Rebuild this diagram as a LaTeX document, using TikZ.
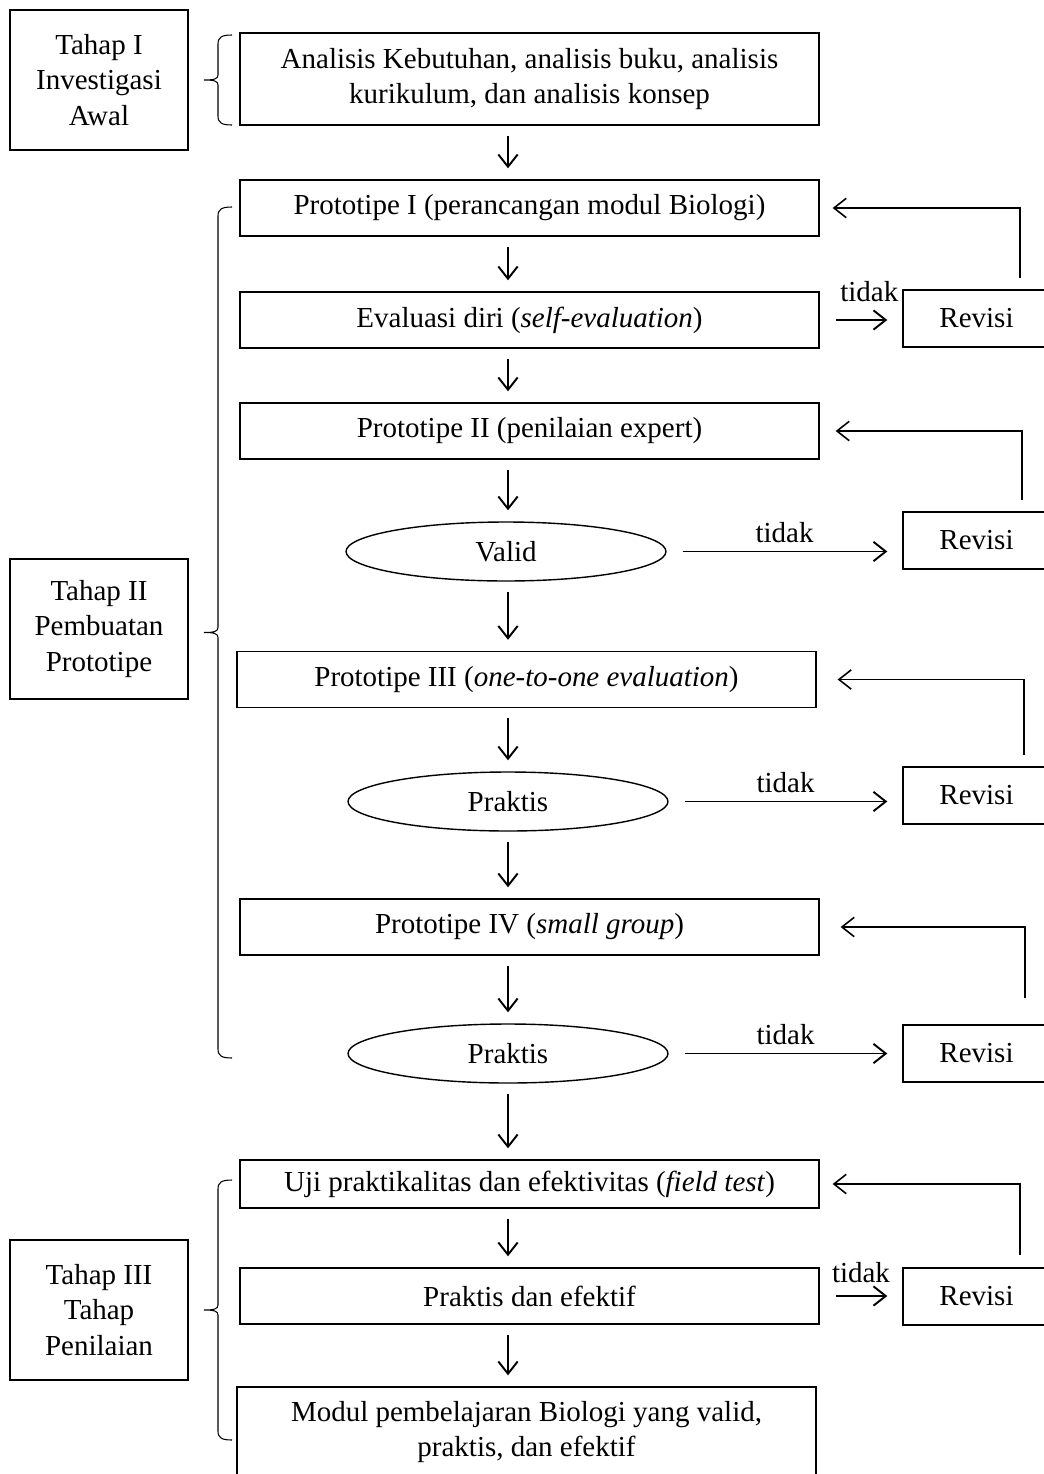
\documentclass[tikz,border=0pt]{standalone}
\usepackage{fontspec}
\setmainfont{Liberation Serif}
\usetikzlibrary{calc, arrows.meta, shapes.geometric}

\begin{document}
\begin{tikzpicture}[x=0.02cm, y=-0.02cm, font=\fontsize{16.5}{20.4}\selectfont,
  box/.style={draw, line width=0.8pt, minimum width=11.58cm, minimum height=1.12cm, align=center, inner sep=2pt},
  tahap/.style={draw, line width=0.8pt, minimum width=3.56cm, minimum height=2.8cm, align=center},
  revisi/.style={draw, line width=0.8pt, minimum width=2.94cm, minimum height=1.14cm},
  oval/.style={draw, ellipse, line width=0.8pt, minimum width=6.4cm, minimum height=1.18cm, inner sep=0pt},
  arr/.style={-{Straight Barb[length=7pt, width=11pt]}, line width=1.1pt},
  down/.style={arr, shorten <=0.2cm, shorten >=0.22cm},
  tidak/.style={arr, shorten <=0.32cm, shorten >=0.3cm},
  back/.style={-{Straight Barb[length=7pt, width=11pt]}, line width=0.9pt},
  brc/.style={line width=0.6pt}]
  \useasboundingbox (0,0) rectangle (1044,1474);

  % tahap di kiri
  \node[tahap] (T1) at (99,80)   {Tahap I\\Investigasi\\Awal};
  \node[tahap] (T2) at (99,629)  {Tahap II\\Pembuatan\\Prototipe};
  \node[tahap] (T3) at (99,1310) {Tahap III\\Tahap\\Penilaian};

  \node[box, minimum height=1.84cm] (A) at (529.5,79)
    {Analisis Kebutuhan, analisis buku, analisis\\kurikulum, dan analisis konsep};
  \node[box] (P1) at (529.5,208)  {Prototipe I (perancangan modul Biologi)};
  \node[box] (E)  at (529.5,320)  {Evaluasi diri (\textit{self-evaluation})};
  \node[box] (P2) at (529.5,431)  {Prototipe II (penilaian expert)};
  \node[oval] (V) at (506,551.5)  {Valid};
  \node[box] (P3) at (526.5,679.5) {Prototipe III (\textit{one-to-one evaluation})};
  \node[oval] (K1) at (508,801.5) {Praktis};
  \node[box] (P4) at (529.5,927)  {Prototipe IV (\textit{small group})};
  \node[oval] (K2) at (508,1053.5) {Praktis};
  \node[box, minimum height=0.96cm] (U) at (529.5,1184)
    {Uji praktikalitas dan efektivitas (\textit{field test})};
  \node[box] (PE) at (529.5,1296) {Praktis dan efektif};
  \node[box, minimum height=1.8cm] (M) at (526.5,1432)
    {Modul pembelajaran Biologi yang valid,\\praktis, dan efektif};

  \node[revisi] (R1) at (976.5,318.5)  {Revisi};
  \node[revisi] (R2) at (976.5,540.5)  {Revisi};
  \node[revisi] (R3) at (976.5,795.5)  {Revisi};
  \node[revisi] (R4) at (976.5,1053.5) {Revisi};
  \node[revisi] (R5) at (976.5,1296.5) {Revisi};

  \coordinate (ax) at (508,0);
  \foreach \a/\b in {A/P1, P1/E, E/P2, P2/V, V/P3, P3/K1, K1/P4, P4/K2, K2/U, U/PE, PE/M}
    \draw[down] (\a.south -| ax) -- (\b.north -| ax);

  \draw[tidak] (E.east) -- (E.east -| R1.west)
    node[pos=0.6, above=0.34cm, inner sep=0pt] {tidak};
  \draw[tidak] (V.east) -- (V.east -| R2.west) node[midway, above=1pt] {tidak};
  \draw[tidak] (K1.east) -- (K1.east -| R3.west) node[midway, above=1pt] {tidak};
  \draw[tidak] (K2.east) -- (K2.east -| R4.west) node[midway, above=1pt] {tidak};
  \draw[tidak] (PE.east) -- (PE.east -| R5.west)
    node[midway, above=0.24cm, inner sep=0pt] {tidak};

  \coordinate (F1) at (1020,278);
  \coordinate (F2) at (1022,500);
  \coordinate (F3) at (1024,755);
  \coordinate (F4) at (1025,998);
  \coordinate (F5) at (1020,1255);
  \draw[back] (F1) |- ([xshift=0.26cm]P1.east);
  \draw[back] (F2) |- ([xshift=0.32cm]P2.east);
  \draw[back] (F3) |- ([xshift=0.42cm]P3.east);
  \draw[back] (F4) |- ([xshift=0.42cm]P4.east);
  \draw[back] (F5) |- ([xshift=0.26cm]U.east);

  % kurung kurawal
  \foreach \t/\b in {35/125, 207/1058, 1180/1440} {
    \pgfmathsetmacro\m{(\t+\b)/2}
    \draw[brc] (232,\t) .. controls (222,\t) and (218,\t+2) .. (218,\t+9)
      -- (218,\m-5) .. controls (218,\m-1) and (214,\m) .. (204,\m)
      .. controls (214,\m) and (218,\m+1) .. (218,\m+5)
      -- (218,\b-9) .. controls (218,\b-2) and (222,\b) .. (232,\b);
  }
\end{tikzpicture}
\end{document}
